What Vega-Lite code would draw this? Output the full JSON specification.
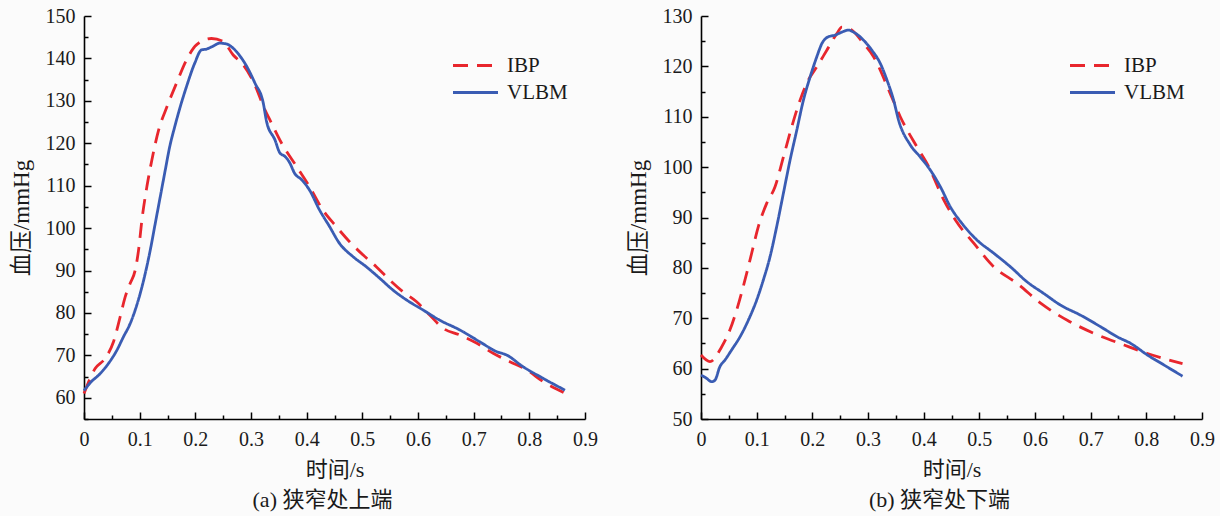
{
  "$schema": "https://vega.github.io/schema/vega-lite/v6.json",
  "background": "#fbfbfb",
  "padding": {"left": 10, "top": 6, "right": 5, "bottom": 5},
  "datasets": {
    "a": [
      {"series": "IBP", "t": 0, "v": 61.0}, {"series": "IBP", "t": 0.02, "v": 66.9}, {"series": "IBP", "t": 0.038, "v": 69.3},
      {"series": "IBP", "t": 0.053, "v": 73.2}, {"series": "IBP", "t": 0.065, "v": 79.1}, {"series": "IBP", "t": 0.074, "v": 83.8},
      {"series": "IBP", "t": 0.083, "v": 87.0}, {"series": "IBP", "t": 0.092, "v": 90.1}, {"series": "IBP", "t": 0.098, "v": 94.8},
      {"series": "IBP", "t": 0.104, "v": 101.9}, {"series": "IBP", "t": 0.113, "v": 109.8}, {"series": "IBP", "t": 0.122, "v": 116.1},
      {"series": "IBP", "t": 0.134, "v": 123.1}, {"series": "IBP", "t": 0.149, "v": 128.6}, {"series": "IBP", "t": 0.166, "v": 134.1},
      {"series": "IBP", "t": 0.184, "v": 139.6}, {"series": "IBP", "t": 0.202, "v": 143.2}, {"series": "IBP", "t": 0.229, "v": 144.7},
      {"series": "IBP", "t": 0.25, "v": 144.0}, {"series": "IBP", "t": 0.268, "v": 140.8}, {"series": "IBP", "t": 0.286, "v": 138.5},
      {"series": "IBP", "t": 0.304, "v": 134.6}, {"series": "IBP", "t": 0.325, "v": 127.9}, {"series": "IBP", "t": 0.337, "v": 124.7},
      {"series": "IBP", "t": 0.355, "v": 120.0}, {"series": "IBP", "t": 0.382, "v": 114.5}, {"series": "IBP", "t": 0.405, "v": 109.8},
      {"series": "IBP", "t": 0.429, "v": 104.3}, {"series": "IBP", "t": 0.453, "v": 100.4}, {"series": "IBP", "t": 0.477, "v": 96.8},
      {"series": "IBP", "t": 0.501, "v": 93.7}, {"series": "IBP", "t": 0.525, "v": 90.9}, {"series": "IBP", "t": 0.549, "v": 87.8},
      {"series": "IBP", "t": 0.573, "v": 85.0}, {"series": "IBP", "t": 0.597, "v": 82.7}, {"series": "IBP", "t": 0.621, "v": 79.5},
      {"series": "IBP", "t": 0.645, "v": 76.4}, {"series": "IBP", "t": 0.675, "v": 74.8}, {"series": "IBP", "t": 0.705, "v": 72.9},
      {"series": "IBP", "t": 0.735, "v": 70.5}, {"series": "IBP", "t": 0.765, "v": 68.5}, {"series": "IBP", "t": 0.795, "v": 66.6},
      {"series": "IBP", "t": 0.825, "v": 63.8}, {"series": "IBP", "t": 0.864, "v": 61.1},
      {"series": "VLBM", "t": 0, "v": 61.7}, {"series": "VLBM", "t": 0.011, "v": 63.5}, {"series": "VLBM", "t": 0.029, "v": 65.7},
      {"series": "VLBM", "t": 0.044, "v": 68.1}, {"series": "VLBM", "t": 0.059, "v": 71.2}, {"series": "VLBM", "t": 0.071, "v": 74.4},
      {"series": "VLBM", "t": 0.083, "v": 77.5}, {"series": "VLBM", "t": 0.092, "v": 80.7}, {"series": "VLBM", "t": 0.101, "v": 84.6},
      {"series": "VLBM", "t": 0.11, "v": 89.3}, {"series": "VLBM", "t": 0.119, "v": 94.8}, {"series": "VLBM", "t": 0.128, "v": 101.1},
      {"series": "VLBM", "t": 0.137, "v": 107.4}, {"series": "VLBM", "t": 0.146, "v": 113.7}, {"series": "VLBM", "t": 0.154, "v": 119.2},
      {"series": "VLBM", "t": 0.163, "v": 123.9}, {"series": "VLBM", "t": 0.172, "v": 128.2}, {"series": "VLBM", "t": 0.184, "v": 133.3},
      {"series": "VLBM", "t": 0.199, "v": 138.9}, {"series": "VLBM", "t": 0.211, "v": 142.0}, {"series": "VLBM", "t": 0.22, "v": 142.2},
      {"series": "VLBM", "t": 0.232, "v": 142.9}, {"series": "VLBM", "t": 0.244, "v": 143.6}, {"series": "VLBM", "t": 0.256, "v": 143.4},
      {"series": "VLBM", "t": 0.268, "v": 142.4}, {"series": "VLBM", "t": 0.28, "v": 140.6}, {"series": "VLBM", "t": 0.292, "v": 138.2},
      {"series": "VLBM", "t": 0.307, "v": 134.2}, {"series": "VLBM", "t": 0.322, "v": 129.5}, {"series": "VLBM", "t": 0.328, "v": 125.1},
      {"series": "VLBM", "t": 0.343, "v": 120.8}, {"series": "VLBM", "t": 0.352, "v": 117.7}, {"series": "VLBM", "t": 0.361, "v": 116.9},
      {"series": "VLBM", "t": 0.37, "v": 115.3}, {"series": "VLBM", "t": 0.378, "v": 113.0}, {"series": "VLBM", "t": 0.391, "v": 111.4},
      {"series": "VLBM", "t": 0.405, "v": 109.0}, {"series": "VLBM", "t": 0.423, "v": 104.3}, {"series": "VLBM", "t": 0.441, "v": 100.4},
      {"series": "VLBM", "t": 0.459, "v": 96.4}, {"series": "VLBM", "t": 0.483, "v": 93.3}, {"series": "VLBM", "t": 0.507, "v": 90.9},
      {"series": "VLBM", "t": 0.531, "v": 88.2}, {"series": "VLBM", "t": 0.555, "v": 85.4}, {"series": "VLBM", "t": 0.579, "v": 83.1},
      {"series": "VLBM", "t": 0.609, "v": 80.7}, {"series": "VLBM", "t": 0.639, "v": 78.3}, {"series": "VLBM", "t": 0.675, "v": 76.0},
      {"series": "VLBM", "t": 0.711, "v": 73.2}, {"series": "VLBM", "t": 0.741, "v": 70.9}, {"series": "VLBM", "t": 0.759, "v": 70.1},
      {"series": "VLBM", "t": 0.789, "v": 67.3}, {"series": "VLBM", "t": 0.819, "v": 65.0}, {"series": "VLBM", "t": 0.864, "v": 61.8}
    ],
    "b": [
      {"series": "IBP", "t": 0, "v": 62.7}, {"series": "IBP", "t": 0.016, "v": 61.4}, {"series": "IBP", "t": 0.037, "v": 64.3},
      {"series": "IBP", "t": 0.052, "v": 67.7}, {"series": "IBP", "t": 0.064, "v": 71.6}, {"series": "IBP", "t": 0.079, "v": 77.6},
      {"series": "IBP", "t": 0.091, "v": 82.9}, {"series": "IBP", "t": 0.103, "v": 88.2}, {"series": "IBP", "t": 0.118, "v": 92.8},
      {"series": "IBP", "t": 0.133, "v": 96.1}, {"series": "IBP", "t": 0.148, "v": 102.0}, {"series": "IBP", "t": 0.163, "v": 108.0},
      {"series": "IBP", "t": 0.178, "v": 113.3}, {"series": "IBP", "t": 0.193, "v": 117.3}, {"series": "IBP", "t": 0.208, "v": 119.9},
      {"series": "IBP", "t": 0.226, "v": 123.2}, {"series": "IBP", "t": 0.244, "v": 126.5}, {"series": "IBP", "t": 0.253, "v": 127.8},
      {"series": "IBP", "t": 0.271, "v": 127.2}, {"series": "IBP", "t": 0.29, "v": 124.8}, {"series": "IBP", "t": 0.31, "v": 121.9},
      {"series": "IBP", "t": 0.34, "v": 114.6}, {"series": "IBP", "t": 0.358, "v": 110.0}, {"series": "IBP", "t": 0.388, "v": 104.0},
      {"series": "IBP", "t": 0.409, "v": 100.1}, {"series": "IBP", "t": 0.436, "v": 93.5}, {"series": "IBP", "t": 0.457, "v": 89.5},
      {"series": "IBP", "t": 0.49, "v": 84.9}, {"series": "IBP", "t": 0.526, "v": 80.2}, {"series": "IBP", "t": 0.568, "v": 76.9},
      {"series": "IBP", "t": 0.61, "v": 73.0}, {"series": "IBP", "t": 0.658, "v": 69.6}, {"series": "IBP", "t": 0.706, "v": 67.0},
      {"series": "IBP", "t": 0.76, "v": 64.7}, {"series": "IBP", "t": 0.802, "v": 63.0}, {"series": "IBP", "t": 0.865, "v": 61.0},
      {"series": "VLBM", "t": 0, "v": 58.7}, {"series": "VLBM", "t": 0.0097, "v": 58.1}, {"series": "VLBM", "t": 0.019, "v": 57.4},
      {"series": "VLBM", "t": 0.025, "v": 57.7}, {"series": "VLBM", "t": 0.034, "v": 60.4}, {"series": "VLBM", "t": 0.043, "v": 61.7},
      {"series": "VLBM", "t": 0.055, "v": 63.7}, {"series": "VLBM", "t": 0.07, "v": 66.3}, {"series": "VLBM", "t": 0.085, "v": 69.6},
      {"series": "VLBM", "t": 0.1, "v": 73.6}, {"series": "VLBM", "t": 0.112, "v": 77.6}, {"series": "VLBM", "t": 0.124, "v": 82.2},
      {"series": "VLBM", "t": 0.136, "v": 88.2}, {"series": "VLBM", "t": 0.148, "v": 94.8}, {"series": "VLBM", "t": 0.16, "v": 101.4},
      {"series": "VLBM", "t": 0.172, "v": 107.3}, {"series": "VLBM", "t": 0.184, "v": 113.3}, {"series": "VLBM", "t": 0.196, "v": 117.9},
      {"series": "VLBM", "t": 0.208, "v": 121.9}, {"series": "VLBM", "t": 0.217, "v": 124.5}, {"series": "VLBM", "t": 0.229, "v": 125.9},
      {"series": "VLBM", "t": 0.241, "v": 126.2}, {"series": "VLBM", "t": 0.253, "v": 126.8}, {"series": "VLBM", "t": 0.265, "v": 127.2},
      {"series": "VLBM", "t": 0.274, "v": 126.8}, {"series": "VLBM", "t": 0.292, "v": 125.2}, {"series": "VLBM", "t": 0.307, "v": 123.2},
      {"series": "VLBM", "t": 0.322, "v": 120.6}, {"series": "VLBM", "t": 0.334, "v": 117.3}, {"series": "VLBM", "t": 0.346, "v": 113.3},
      {"series": "VLBM", "t": 0.355, "v": 109.3}, {"series": "VLBM", "t": 0.376, "v": 104.4}, {"series": "VLBM", "t": 0.394, "v": 102.0},
      {"series": "VLBM", "t": 0.412, "v": 99.4}, {"series": "VLBM", "t": 0.43, "v": 96.1}, {"series": "VLBM", "t": 0.448, "v": 92.1},
      {"series": "VLBM", "t": 0.469, "v": 88.8}, {"series": "VLBM", "t": 0.496, "v": 85.5}, {"series": "VLBM", "t": 0.526, "v": 82.9},
      {"series": "VLBM", "t": 0.556, "v": 80.2}, {"series": "VLBM", "t": 0.586, "v": 77.2}, {"series": "VLBM", "t": 0.616, "v": 74.9},
      {"series": "VLBM", "t": 0.646, "v": 72.6}, {"series": "VLBM", "t": 0.682, "v": 70.6}, {"series": "VLBM", "t": 0.718, "v": 68.3},
      {"series": "VLBM", "t": 0.748, "v": 66.3}, {"series": "VLBM", "t": 0.772, "v": 65.0}, {"series": "VLBM", "t": 0.802, "v": 62.7},
      {"series": "VLBM", "t": 0.832, "v": 60.7}, {"series": "VLBM", "t": 0.865, "v": 58.5}
    ]
  },
  "config": {
    "font": "'Liberation Serif', 'Times New Roman', 'DejaVu Serif', 'Noto Sans CJK SC', serif",
    "view": {"stroke": null},
    "axis": {
      "grid": false,
      "domainColor": "#000000",
      "domainWidth": 1.6,
      "tickColor": "#000000",
      "tickWidth": 1.5,
      "labelFont": "'Liberation Serif', 'Times New Roman', serif",
      "labelFontSize": 20,
      "labelColor": "#1a1a1a",
      "labelOverlap": false,
      "labelFlush": false,
      "titleFont": "'Liberation Serif', 'Times New Roman', 'Noto Sans CJK SC', serif",
      "titleFontSize": 22,
      "titleFontWeight": "normal",
      "titleColor": "#1a1a1a"
    },
    "axisY": {"titleFontSize": 23},
    "legend": {
      "orient": "none",
      "title": null,
      "labelFont": "'Liberation Serif', 'Times New Roman', serif",
      "labelFontSize": 21,
      "labelColor": "#1a1a1a",
      "symbolType": "M-2.25,0H2.25",
      "symbolSize": 400,
      "symbolStrokeWidth": 3,
      "labelOffset": 20,
      "rowPadding": 5
    },
    "title": {
      "font": "'Liberation Serif', 'Times New Roman', 'Noto Sans CJK SC', serif",
      "fontSize": 22,
      "fontWeight": "normal",
      "color": "#1a1a1a"
    }
  },
  "bounds": "flush",
  "spacing": 116,
  "resolve": {
    "scale": {"y": "independent", "color": "independent", "strokeDash": "independent"},
    "legend": {"color": "independent", "strokeDash": "independent"}
  },
  "hconcat": [
    {
      "width": 501,
      "height": 403,
      "title": {"text": "(a) 狭窄处上端", "orient": "bottom", "offset": 10, "dx": -12},
      "data": {"name": "a"},
      "mark": {"type": "line", "interpolate": "monotone", "strokeWidth": 2.8},
      "encoding": {
        "x": {
          "field": "t", "type": "quantitative",
          "scale": {"domain": [0, 0.9], "nice": false, "zero": false},
          "axis": {
            "title": "时间/s",
            "values": [0, 0.05, 0.1, 0.15, 0.2, 0.25, 0.3, 0.35, 0.4, 0.45, 0.5, 0.55, 0.6, 0.65, 0.7, 0.75, 0.8, 0.85, 0.9],
            "labelExpr": "round(datum.value*100) % 10 === 0 ? '' + round(datum.value*10)/10 : ''",
            "tickSize": {"condition": {"test": "round(datum.value*100) % 10 === 0", "value": -7}, "value": -4},
            "labelPadding": 17,
            "titlePadding": 7
          }
        },
        "y": {
          "field": "v", "type": "quantitative",
          "scale": {"domain": [55, 150], "nice": false, "zero": false},
          "axis": {
            "title": "血压/mmHg",
            "values": [55, 60, 65, 70, 75, 80, 85, 90, 95, 100, 105, 110, 115, 120, 125, 130, 135, 140, 145, 150],
            "labelExpr": "datum.value % 10 === 0 ? '' + datum.value : ''",
            "tickSize": {"condition": {"test": "datum.value % 10 === 0", "value": -7}, "value": -4},
            "labelPadding": 16,
            "titlePadding": 12
          }
        },
        "color": {
          "field": "series", "type": "nominal",
          "scale": {"domain": ["IBP", "VLBM"], "range": ["#e8262d", "#3a5cb3"]},
          "legend": {"orient": "none", "legendX": 380, "legendY": 38}
        },
        "strokeDash": {
          "field": "series", "type": "nominal",
          "scale": {"domain": ["IBP", "VLBM"], "range": [[15, 9], [1, 0]]},
          "legend": {"orient": "none", "legendX": 380, "legendY": 38}
        }
      }
    },
    {
      "width": 501,
      "height": 403,
      "title": {"text": "(b) 狭窄处下端", "orient": "bottom", "offset": 10, "dx": -12},
      "data": {"name": "b"},
      "mark": {"type": "line", "interpolate": "monotone", "strokeWidth": 2.8},
      "encoding": {
        "x": {
          "field": "t", "type": "quantitative",
          "scale": {"domain": [0, 0.9], "nice": false, "zero": false},
          "axis": {
            "title": "时间/s",
            "values": [0, 0.05, 0.1, 0.15, 0.2, 0.25, 0.3, 0.35, 0.4, 0.45, 0.5, 0.55, 0.6, 0.65, 0.7, 0.75, 0.8, 0.85, 0.9],
            "labelExpr": "round(datum.value*100) % 10 === 0 ? '' + round(datum.value*10)/10 : ''",
            "tickSize": {"condition": {"test": "round(datum.value*100) % 10 === 0", "value": -7}, "value": -4},
            "labelPadding": 17,
            "titlePadding": 7
          }
        },
        "y": {
          "field": "v", "type": "quantitative",
          "scale": {"domain": [50, 130], "nice": false, "zero": false},
          "axis": {
            "title": "血压/mmHg",
            "values": [50, 55, 60, 65, 70, 75, 80, 85, 90, 95, 100, 105, 110, 115, 120, 125, 130],
            "labelExpr": "datum.value % 10 === 0 ? '' + datum.value : ''",
            "tickSize": {"condition": {"test": "datum.value % 10 === 0", "value": -7}, "value": -4},
            "labelPadding": 16,
            "titlePadding": 12
          }
        },
        "color": {
          "field": "series", "type": "nominal",
          "scale": {"domain": ["IBP", "VLBM"], "range": ["#e8262d", "#3a5cb3"]},
          "legend": {"orient": "none", "legendX": 380, "legendY": 38}
        },
        "strokeDash": {
          "field": "series", "type": "nominal",
          "scale": {"domain": ["IBP", "VLBM"], "range": [[15, 9], [1, 0]]},
          "legend": {"orient": "none", "legendX": 380, "legendY": 38}
        }
      }
    }
  ]
}
